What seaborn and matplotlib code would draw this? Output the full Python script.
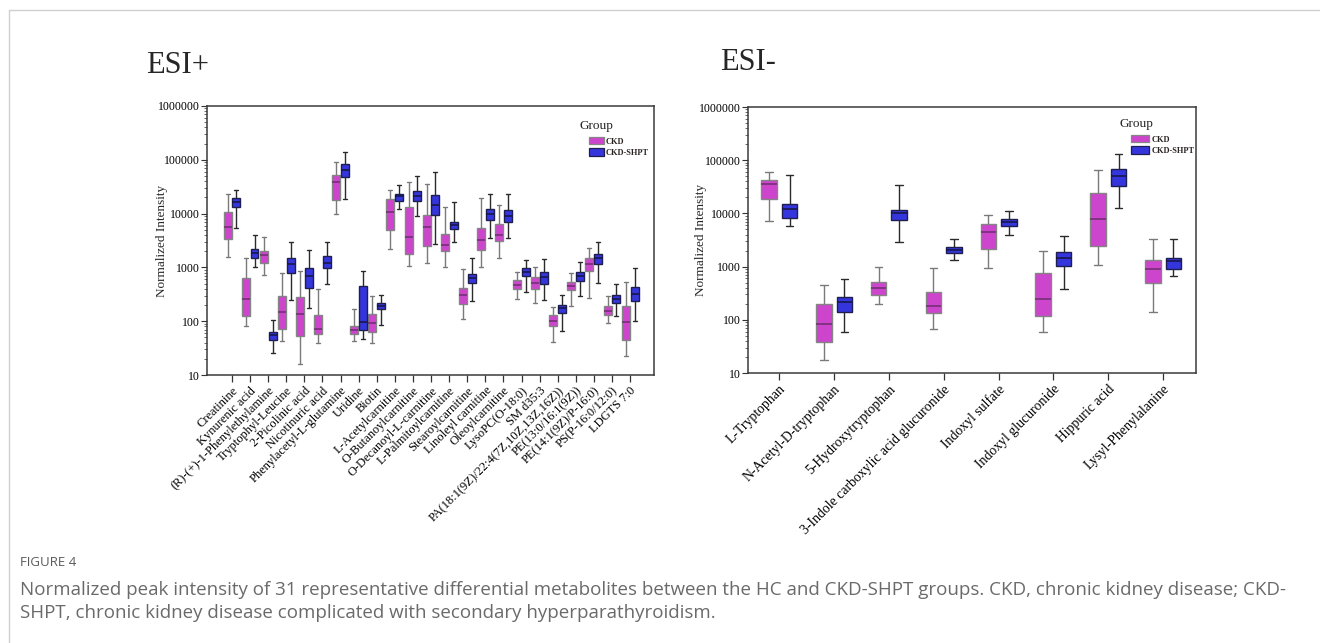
import numpy as np
import pandas as pd
import matplotlib
matplotlib.use("Agg")
import matplotlib.pyplot as plt
import seaborn as sns
from matplotlib.patches import Patch
from matplotlib.lines import Line2D
from matplotlib.ticker import FixedLocator, FuncFormatter, LogLocator, NullFormatter

# ---------------- data (five-number summaries: min, Q1, median, Q3, max) ----------------
groups = ["CKD", "CKD-SHPT"]

pos_names = [
    "Creatinine", "Kynurenic acid", "(R)-(+)-1-Phenylethylamine", "Tryptophyl-Leucine",
    "2-Picolinic acid", "Nicotinuric acid", "Phenylacetyl-L-glutamine", "Uridine", "Biotin",
    "L-Acetylcarnitine", "O-Butanoylcarnitine", "O-Decanoyl-L-carnitine",
    "L-Palmitoylcarnitine", "Stearoylcarnitine", "Linoleyl carnitine", "Oleoylcarnitine",
    "LysoPC(O-18:0)", "SM d35:3", "PA(18:1(9Z)/22:4(7Z,10Z,13Z,16Z))", "PE(13:0/16:1(9Z))",
    "PE(14:1(9Z)/P-16:0)", "PS(P-16:0/12:0)", "LDGTS 7:0",
]
pos_ckd = [
    [1560, 3320, 5560, 10500, 23000],
    [83, 125, 262, 635, 1480],
    [713, 1190, 1680, 1990, 3620],
    [43, 73, 146, 298, 776],
    [16, 54, 134, 278, 857],
    [40, 57, 71, 129, 391],
    [9690, 17650, 39200, 52100, 92300],
    [42, 59, 68, 81, 166],
    [40, 62, 94, 138, 298],
    [2230, 4890, 10560, 18950, 27000],
    [1077, 1750, 3720, 13450, 38100],
    [1190, 2500, 5720, 9420, 36000],
    [1003, 1990, 2646, 4120, 13270],
    [110, 209, 307, 420, 946],
    [1017, 2138, 3186, 5480, 19770],
    [1475, 3054, 4000, 6310, 14250],
    [255, 403, 478, 575, 834],
    [215, 403, 513, 653, 1003],
    [40.5, 82.6, 102, 128.6, 181],
    [194, 375, 457, 535, 787],
    [266, 869, 1172, 1517, 2328],
    [94, 129, 157, 194, 290],
    [23, 44, 97, 192, 535],
]
pos_shpt = [
    [5320, 13270, 16430, 19770, 27850],
    [1003, 1475, 1878, 2228, 4060],
    [26, 45, 56, 64, 107],
    [248, 776, 1140, 1517, 2924],
    [173, 420, 701, 988, 2075],
    [491, 961, 1225, 1607, 3006],
    [18950, 48600, 65600, 82300, 139600],
    [46, 68.5, 98, 457, 845],
    [85, 171, 194, 215, 307],
    [12000, 16900, 21550, 23500, 34500],
    [9160, 17140, 21550, 26700, 49300],
    [2720, 9550, 14250, 21860, 60200],
    [2924, 5100, 6140, 7080, 16190],
    [234, 520, 635, 754, 1475],
    [3520, 7710, 9970, 12000, 22800],
    [3470, 7080, 9160, 11500, 22800],
    [354, 692, 809, 961, 1352],
    [248, 484, 663, 834, 1432],
    [66, 144, 173, 197, 303],
    [298, 566, 692, 822, 1242],
    [506, 1140, 1475, 1800, 2924],
    [125, 215, 259, 307, 484],
    [102, 241, 325, 438, 961],
]

neg_names = [
    "L-Tryptophan", "N-Acetyl-D-tryptophan", "5-Hydroxytryptophan",
    "3-Indole carboxylic acid glucuronide", "Indoxyl sulfate", "Indoxyl glucuronide",
    "Hippuric acid", "Lysyl-Phenylalanine",
]
neg_ckd = [
    [7080, 18300, 35500, 42800, 61300],
    [17.8, 37.6, 85, 197, 460],
    [202, 290, 392, 523, 1000],
    [67, 137, 180, 340, 931],
    [958, 2113, 4470, 6220, 9310],
    [60, 119, 251, 750, 1940],
    [1075, 2440, 7720, 23700, 64900],
    [139, 501, 904, 1315, 3350],
]
neg_shpt = [
    [5710, 8290, 11890, 14960, 52300],
    [60, 139, 214, 266, 579],
    [2900, 7400, 10000, 11550, 34500],
    [1315, 1803, 2083, 2371, 3350],
    [3870, 5790, 6780, 7940, 11060],
    [376, 1045, 1433, 1910, 3700],
    [12590, 32100, 50100, 69800, 133400],
    [659, 917, 1259, 1433, 3300],
]

# ---------------- styling ----------------
fill = {"CKD": "#CC45CC", "CKD-SHPT": "#3535DD"}
edge = {"CKD": "#858585", "CKD-SHPT": "#1E1E50"}
whisk = {"CKD": "#7A7A7A", "CKD-SHPT": "#2A2A2A"}
med = {"CKD": "#6E2E6E", "CKD-SHPT": "#15153F"}

sns.set_style("ticks")
plt.rcParams["font.family"] = ["Liberation Serif", "DejaVu Serif"]


def long_frame(names, ckd, shpt):
    rows = []
    for name, a, b in zip(names, ckd, shpt):
        for v in a:
            rows.append((name, "CKD", v))
        for v in b:
            rows.append((name, "CKD-SHPT", v))
    return pd.DataFrame(rows, columns=["metabolite", "group", "value"])


def draw(ax, names, ckd, shpt, width, gap, xlim, xfs, leg_xy, leg_title_xy, handlelen, ylab_x):
    df = long_frame(names, ckd, shpt)
    ax.set_yscale("log")
    for g in groups:
        sub = df[df["group"] == g]
        sns.boxplot(
            data=sub, x="metabolite", y="value", hue="group", hue_order=groups,
            order=names, palette=fill, dodge=True, width=width, gap=gap,
            whis=(0, 100), saturation=1, linewidth=1.0, linecolor=edge[g],
            fliersize=0, legend=False, ax=ax,
            whiskerprops={"color": whisk[g]}, capprops={"color": whisk[g]},
            medianprops={"color": med[g], "linewidth": 1.1},
        )
    ax.set_ylim(10, 1e6)
    ax.set_xlim(*xlim)
    ax.yaxis.set_major_locator(FixedLocator([10, 100, 1000, 10000, 100000, 1000000]))
    ax.yaxis.set_major_formatter(FuncFormatter(lambda v, p: f"{int(round(v))}"))
    ax.yaxis.set_minor_locator(LogLocator(base=10, subs=np.arange(2, 10)))
    ax.yaxis.set_minor_formatter(NullFormatter())
    ax.tick_params(axis="y", which="major", length=4, width=0.8, labelsize=8.5, pad=1.5, colors="#333333", labelcolor="black")
    ax.tick_params(axis="y", which="minor", length=2.5, width=0.6, colors="#555555")
    ax.tick_params(axis="x", which="major", length=5, width=0.9, colors="#333333", labelcolor="black", pad=2)
    ax.set_xticks(range(len(names)))
    ax.set_xticklabels(names, rotation=45, ha="right", va="top", rotation_mode="anchor", fontsize=xfs)
    ax.set_xlabel("")
    ax.set_ylabel("Normalized Intensity", fontsize=9.5)
    ax.yaxis.set_label_coords(ylab_x, 0.5)
    for s in ax.spines.values():
        s.set_visible(True)
        s.set_color("#3a3a3a")
        s.set_linewidth(1.1)
    ax.grid(False)
    ax.set_facecolor("white")
    handles = [Patch(facecolor=fill[g], edgecolor=edge[g], linewidth=0.9, label=g) for g in groups]
    leg = ax.legend(handles=handles, loc="upper left", bbox_to_anchor=leg_xy, frameon=False,
                    prop={"family": "Liberation Serif", "weight": "bold", "size": 6},
                    handlelength=handlelen, handleheight=1.0, handletextpad=0.25,
                    labelspacing=0.3, borderpad=0, borderaxespad=0)
    for t in leg.get_texts():
        t.set_color("#2b2222")
    ax.text(leg_title_xy[0], leg_title_xy[1], "Group", transform=ax.transAxes,
            fontsize=9.5, ha="left", va="top", color="#222222")


fig = plt.figure(figsize=(13.2, 6.43), dpi=100)
W, H = 1320, 643
ax1 = fig.add_axes([207 / W, 1 - 375 / H, 447 / W, 269 / H])
ax2 = fig.add_axes([748 / W, 1 - 373 / H, 448 / W, 266 / H])

draw(ax1, pos_names, pos_ckd, pos_shpt, width=0.98, gap=0.1, xlim=(-1.38, 23.32), xfs=9.0,
     leg_xy=((589 - 207) / 447, 1 - (137 - 106) / 269),
     leg_title_xy=((580 - 207) / 447, 1 - (120 - 106) / 269), handlelen=1.8,
     ylab_x=(168 - 207) / 447)
draw(ax2, neg_names, neg_ckd, neg_shpt, width=0.75, gap=0.25, xlim=(-0.57, 7.6), xfs=9.9,
     leg_xy=((1131 - 748) / 448, 1 - (135 - 107) / 266),
     leg_title_xy=((1120 - 748) / 448, 1 - (118 - 107) / 266), handlelen=2.2,
     ylab_x=(707 - 748) / 448)

# panel titles
fig.text(146 / W, 1 - 73 / H, "ESI+", fontsize=22, ha="left", va="baseline")
fig.text(720 / W, 1 - 70 / H, "ESI-", fontsize=22, ha="left", va="baseline")

# page frame lines
fig.add_artist(Line2D([9 / W, 1], [1 - 10 / H, 1 - 10 / H], color="#cfcfcf", linewidth=1.0, transform=fig.transFigure))
fig.add_artist(Line2D([9 / W, 9 / W], [0, 1 - 10 / H], color="#cfcfcf", linewidth=1.0, transform=fig.transFigure))

# caption
cap_font = ["Open Sans", "DejaVu Sans"]
fig.text(20 / W, 1 - 562 / H, "FIGURE 4", fontsize=9.5, family=cap_font, color="#5a5a5a", va="center", ha="left")
fig.text(20 / W, 1 - 590 / H,
         "Normalized peak intensity of 31 representative differential metabolites between the HC and CKD-SHPT groups. CKD, chronic kidney disease; CKD-",
         fontsize=13.5, family=cap_font, color="#6a6a6a", va="center", ha="left")
fig.text(20 / W, 1 - 613 / H,
         "SHPT, chronic kidney disease complicated with secondary hyperparathyroidism.",
         fontsize=13.5, family=cap_font, color="#6a6a6a", va="center", ha="left")

fig.savefig("out.png", dpi=100, facecolor="white")
